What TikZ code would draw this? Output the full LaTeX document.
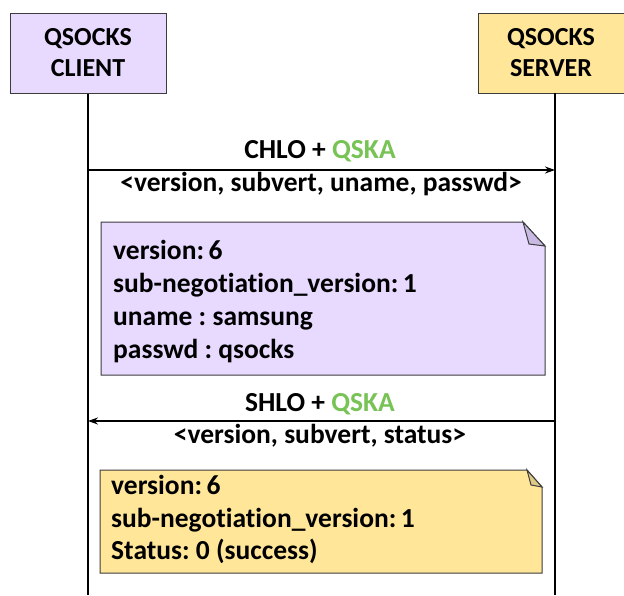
\documentclass[tikz,border=0pt]{standalone}
\usepackage{fontspec}
\setmainfont[Ligatures={NoCommon}]{Carlito}
\usetikzlibrary{arrows.meta}
\definecolor{lav}{RGB}{232,217,255}
\definecolor{lavfold}{RGB}{200,186,226}
\definecolor{yel}{RGB}{255,230,153}
\definecolor{yelfold}{RGB}{222,202,135}
\definecolor{qgreen}{RGB}{120,195,85}
\definecolor{edge}{RGB}{60,60,60}
\frenchspacing
\begin{document}
\frenchspacing
\begin{tikzpicture}[x=1pt,y=-1pt,
  actor/.style={draw=edge,line width=1pt,minimum width=#1,minimum height=80pt,align=center,font=\bfseries\fontsize{26}{31}\selectfont,inner sep=0pt},
  life/.style={line width=1.3pt},
  msg/.style={line width=1.3pt,-{Stealth[length=10pt,width=7pt]}},
  lbl/.style={font=\bfseries\fontsize{27.5}{30}\selectfont\frenchspacing,inner sep=0pt,anchor=base},
  notetxt/.style={font=\bfseries\fontsize{27.5}{30}\selectfont\frenchspacing,inner sep=0pt,anchor=base west}]
\useasboundingbox (0,0) rectangle (624,595);
\fill[white] (0,0) rectangle (624,595);
% actors
\node[actor=156pt,fill=lav] (client) at (88,53) {QSOCKS\\CLIENT};
\node[actor=146pt,fill=yel] (server) at (551,53) {QSOCKS\\SERVER};
\coordinate (cbot) at (88,595);
\coordinate (sbot) at (555,595);
\coordinate (stop) at (555,93);
\draw[life] (client.south) -- (cbot);
\draw[life] (stop) -- (sbot);
% message 1
\coordinate (m1a) at (88,170);
\coordinate (m1b) at (555,170);
\draw[msg] (m1a) -- (m1b);
\node[lbl] (m1t) at (320,158) {CHLO + \textcolor{qgreen}{QSKA}};
\node[lbl] (m1p) at (321,191) {<version, subvert, uname, passwd>};
% note 1
\draw[edge,line width=1pt,fill=lav] (101,222) -- (523,222) -- (545,246) -- (545,375) -- (101,375) -- cycle;
\draw[edge,line width=1pt,fill=lavfold] (523,222) -- (529,244) -- (545,246) -- cycle;
\node[notetxt] (n1a) at (113,259) {version:\,6};
\node[notetxt] (n1b) at (113,292) {sub-negotiation\_version:\,1};
\node[notetxt] (n1c) at (113,325) {uname : samsung};
\node[notetxt] (n1d) at (113,358) {passwd : qsocks};
% message 2
\coordinate (m2a) at (555,421);
\coordinate (m2b) at (88,421);
\draw[msg] (m2a) -- (m2b);
\node[lbl] (m2t) at (320,411) {SHLO + \textcolor{qgreen}{QSKA}};
\node[lbl] (m2p) at (320,443) {<version, subvert, status>};
% note 2
\draw[edge,line width=1pt,fill=yel] (100,470) -- (527,470) -- (542,487) -- (542,573) -- (100,573) -- cycle;
\draw[edge,line width=1pt,fill=yelfold] (527,470) -- (531,485) -- (542,487) -- cycle;
\node[notetxt] (n2a) at (111,494) {version:\,6};
\node[notetxt] (n2b) at (111,527) {sub-negotiation\_version:\,1};
\node[notetxt] (n2c) at (111,559) {Status: 0 (success)};
\end{tikzpicture}
\end{document}
